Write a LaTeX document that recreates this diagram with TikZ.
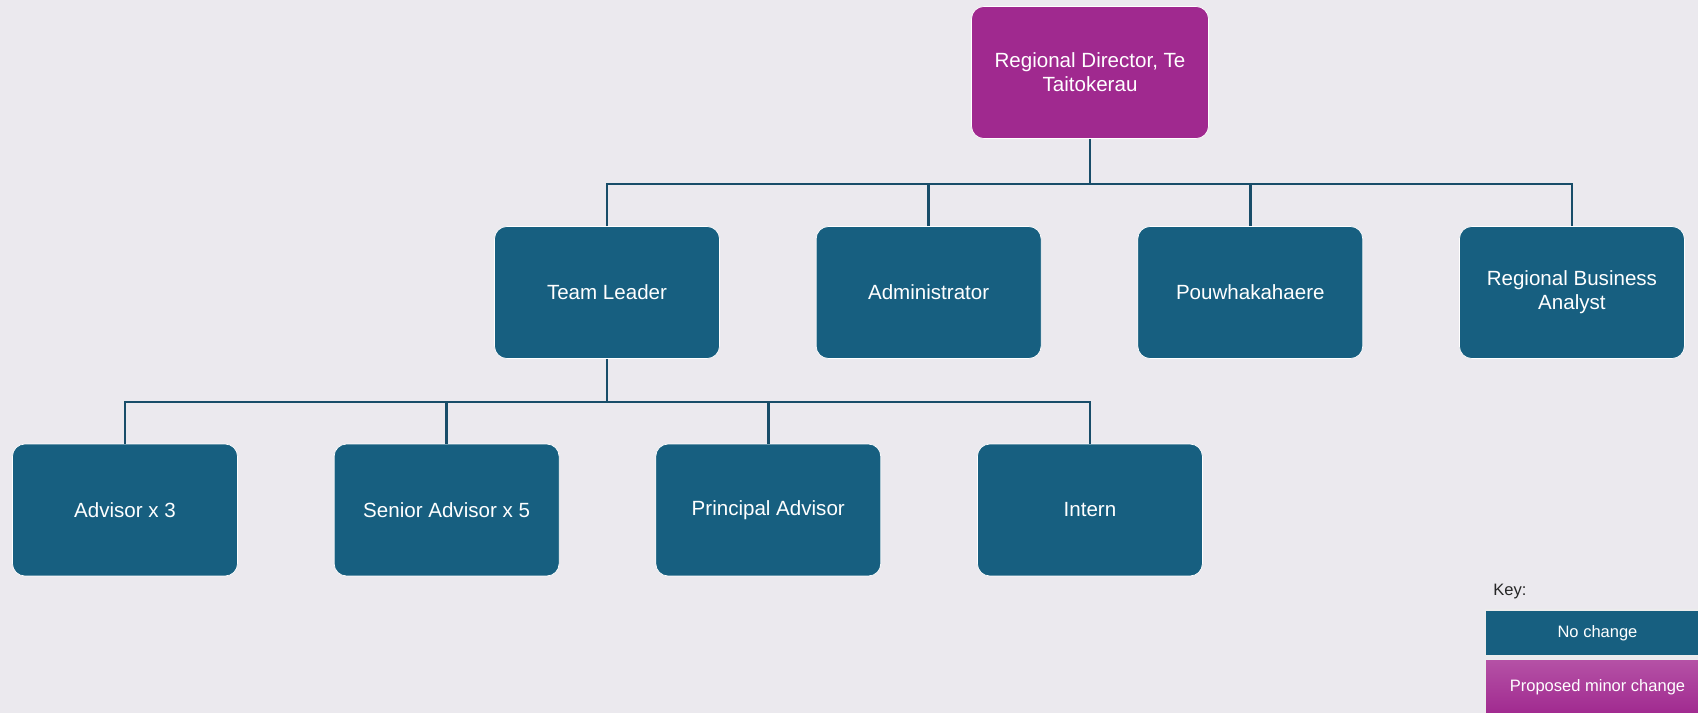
\documentclass[tikz,border=0pt]{standalone}
\usepackage{fontspec}
\setmainfont{Liberation Sans}
\usepackage{xcolor}
\definecolor{Deep Teal}{HTML}{175F80}
\definecolor{Dark Teal}{HTML}{184D69}
\definecolor{Plum}{HTML}{A0298F}
\definecolor{Light Plum}{HTML}{B552A6}
\definecolor{Mist}{HTML}{EBE9EE}
\colorlet{cTeal}{Deep Teal}
\colorlet{cLine}{Dark Teal}
\colorlet{cPlum}{Plum}
\colorlet{cPlumLight}{Light Plum}
\usetikzlibrary{positioning}
\tikzset{
	node distance = 1.92cm,
	line width = 1.7pt,
	font = \fontsize{11.7}{13.5}\selectfont,
	unit/.style={
		draw=white,
		fill=cTeal,
		text=white,
		rounded corners=7pt,
		align=center,
		minimum width=4.5cm,
		minimum height=2.64cm,
		inner sep=2pt
	},
	keybox/.style={
		draw=white!85!gray,
		line width=.6pt,
		text=white,
		minimum width=4.5cm,
		inner sep=1pt,
		font=\fontsize{9.4}{11}\selectfont
	},
	link/.style={
		draw=cLine,
		line width=1.6pt
	}
}

\begin{document}
\begin{tikzpicture}[x=0.02cm, y=-0.02cm]
		\useasboundingbox (0,0) rectangle (1698,713);
\fill[Mist] (0,0) rectangle (1698,713);
% ---
% director
% ---
\node[unit, fill=cPlum, minimum width=4.74cm] at (1090,72.5) (director) {Regional Director, Te\\Taitokerau};

% ---
% first tier
% ---
\node[unit] at (607,292.5) (lead) {Team Leader};
\node[unit, right=of lead] (admin) {Administrator};
\node[unit, right=of admin] (pouw) {Pouwhakahaere};
\node[unit, right=of pouw] (analyst) {Regional Business\\Analyst};

\coordinate (bus-top) at (0,184);
\draw[link] (director.south) -- (director.south |- bus-top);
\draw[link] (lead.north) |- (analyst.north |- bus-top) -- (analyst.north);
\draw[link] (admin.north) -- (admin.north |- bus-top);
\draw[link] (pouw.north) -- (pouw.north |- bus-top);

% ---
% second tier
% ---
\node[unit] at (125,510) (advisor) {Advisor x 3};
\node[unit, right=of advisor] (senior) {Senior Advisor x 5};
\node[unit, right=of senior] (principal) {Principal Advisor};
\node[unit, right=of principal] (intern) {Intern};

\coordinate (bus-low) at (0,402);
\draw[link] (lead.south) -- (lead.south |- bus-low);
\draw[link] (advisor.north) |- (intern.north |- bus-low) -- (intern.north);
\draw[link] (senior.north) -- (senior.north |- bus-low);
\draw[link] (principal.north) -- (principal.north |- bus-low);

% ---
% key
% ---
\node[anchor=west, inner sep=0pt, text=black!85, font=\fontsize{9.4}{11}\selectfont] at (1493,592) (key) {Key:};
\node[keybox, fill=cTeal, minimum height=0.92cm] at (1597.5,633) (nochange) {No change};
\node[keybox, below=0.04cm of nochange, top color=cPlumLight, bottom color=cPlum, minimum height=1.12cm] (minor) {Proposed minor change};
	\end{tikzpicture}
\end{document}
